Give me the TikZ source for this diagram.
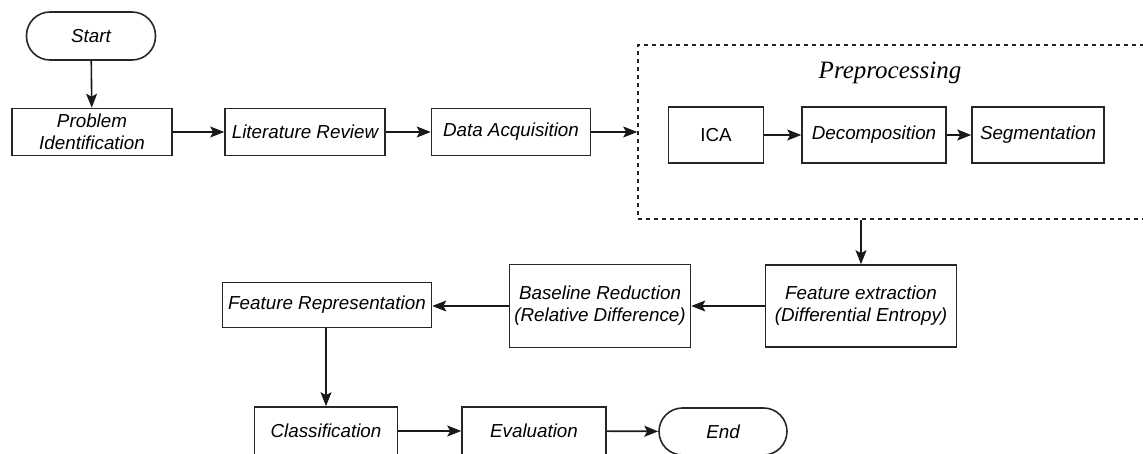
\documentclass[tikz,border=0pt]{standalone}
\usepackage{fontspec}
\setmainfont{Liberation Sans}
\newfontfamily\prepfont{Liberation Serif}
\usetikzlibrary{arrows.meta}
\begin{document}
\begin{tikzpicture}[x=1pt,y=-1pt,
  box/.style={draw=black!85, line width=1.6pt, inner sep=0pt, align=center, font=\fontsize{18.8}{22}\selectfont\itshape},
  term/.style={box, rounded corners=23.5pt},
  arr/.style={-{Stealth[length=14pt,width=11pt,inset=3pt]}, line width=1.6pt, draw=black!90}
]
\useasboundingbox (0,0) rectangle (1143,454);
\clip (0,0) rectangle (1143,454);
\node[term, minimum width=129pt, minimum height=48pt] (start) at (91,36) {Start};
\node[box, minimum width=160pt, minimum height=47pt] (prob) at (92,132) {Problem\\Identification};
\node[box, minimum width=160pt, minimum height=47pt] (lit) at (305,132) {Literature Review};
\node[box, minimum width=159pt, minimum height=47pt] (data) at (511,132) {Data Acquisition};
\node[draw=black!85, line width=1.6pt, dash pattern=on 4pt off 4pt, minimum width=522pt, minimum height=174pt, inner sep=0pt] (prep) at (899,132) {};
\node[font=\fontsize{25}{28}\selectfont\prepfont\itshape] (preplabel) at (890,73) {Preprocessing};
\node[box, font=\fontsize{18.8}{22}\selectfont, minimum width=95pt, minimum height=56pt] (ica) at (716,135) {ICA};
\node[box, minimum width=144pt, minimum height=56pt] (dec) at (874,135) {Decomposition};
\node[box, minimum width=132pt, minimum height=56pt] (seg) at (1038,135) {Segmentation};
\node[box, minimum width=191pt, minimum height=82pt] (fe) at (861,306) {Feature extraction\\(Differential Entropy)};
\node[box, minimum width=181pt, minimum height=83pt] (base) at (600,306) {Baseline Reduction\\(Relative Difference)};
\node[box, minimum width=209pt, minimum height=45pt] (rep) at (327,305) {Feature Representation};
\node[box, minimum width=143pt, minimum height=48pt] (cls) at (326,431) {Classification};
\node[box, minimum width=144pt, minimum height=48pt] (eval) at (534,431) {Evaluation};
\node[term, minimum width=128pt, minimum height=47pt] (end) at (723,431.5) {End};
\draw[arr] (start) -- (prob);
\draw[arr] (prob) -- (lit);
\draw[arr] (lit) -- (data);
\draw[arr] (data) -- (prep);
\draw[arr] (ica) -- (dec);
\draw[arr] (dec) -- (seg);
\draw[arr] (fe.north |- prep.south) -- (fe.north);
\draw[arr] (fe.west) -- (base.east);
\draw[arr] (base.west) -- (base.west -| rep.east);
\draw[arr] (rep.south -| cls.north) -- (cls.north);
\draw[arr] (cls) -- (eval);
\draw[arr] (eval) -- (end);
\end{tikzpicture}
\end{document}
